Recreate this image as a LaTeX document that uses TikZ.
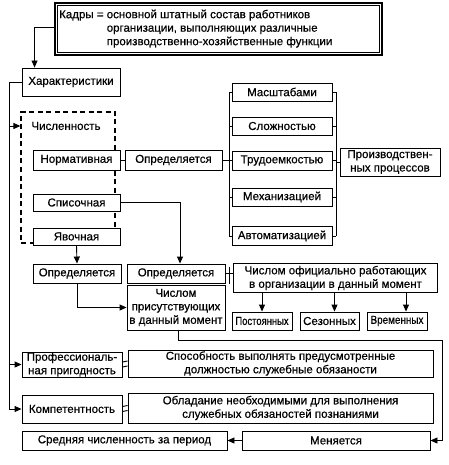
\documentclass[tikz,border=0pt]{standalone}
\usepackage{fontspec}
\setmainfont{Liberation Sans}[FakeBold=0.5]
\usepackage{graphicx}
\usetikzlibrary{calc,arrows.meta}
\begin{document}
\begin{tikzpicture}[x=1pt,y=-1pt,
  every node/.style={font=\fontsize{11.5}{13.5}\selectfont},
  bx/.style={draw, line width=0.9pt, fill=white, inner sep=0pt, align=center},
  arr/.style={-{Triangle[length=7pt,width=6pt]}, line width=0.9pt},
  ln/.style={line width=0.9pt}]
\useasboundingbox (0,0) rectangle (448,465);

% dashed group
\node[draw, dash pattern=on 5pt off 3.5pt, line width=1.2pt, minimum width=94, minimum height=131, inner sep=0pt] (dash) at (68,177.5) {};
\node (chisl) at (66,126) {Численность};

% top
\node[inner sep=0pt, minimum width=327, minimum height=52] (top) at (218.5,29) {};
\node[anchor=west, inner sep=0pt, align=left] (toptext) at (59,29)
  {\begin{tabular}{@{}l@{ }l@{}}Кадры = & основной штатный состав работников\\ & организации, выполняющих различные\\ & производственно-хозяйственные функции\end{tabular}};
\draw[line width=1.6pt] (top.north west) rectangle (top.south east);
\draw[line width=0.6pt] ($(top.north west)+(2.8,2.8)$) rectangle ($(top.south east)+(-2.8,-2.8)$);

\node[bx, minimum width=98, minimum height=28] (har) at (71,82) {Характеристики};

\node[bx, minimum width=87, minimum height=20] (norm) at (76.5,160) {Нормативная};
\node[bx, minimum width=97, minimum height=20] (opr1) at (173.5,160) {Определяется};

\node[bx, minimum width=100, minimum height=18] (masht) at (282,92) {Масштабами};
\node[bx, minimum width=100, minimum height=18] (slozh) at (282,126) {Сложностью};
\node[bx, minimum width=100, minimum height=19] (trud) at (282,160.5) {Трудоемкостью};
\node[bx, minimum width=100, minimum height=18] (mech) at (282,197) {Механизацией};
\node[bx, minimum width=100, minimum height=19] (avto) at (282,236) {Автоматизацией};
\node[bx, minimum width=100, minimum height=28] (proizv) at (390,162) {Производствен-\\ных процессов};

\node[bx, minimum width=87, minimum height=17] (spis) at (76.5,202.5) {Списочная};
\node[bx, minimum width=87, minimum height=17] (yav) at (76.5,236.5) {Явочная};

\node[bx, minimum width=88, minimum height=19] (oprL) at (77,273.5) {Определяется};
\node[bx, minimum width=98, minimum height=19] (oprM) at (176,273.5) {Определяется};
\node[bx, minimum width=204, minimum height=29] (chisOf) at (335.5,278) {Числом официально работающих\\в организации в данный момент};
\node[bx, minimum width=98, minimum height=45] (chisPr) at (176,307.5) {Числом\\присутствующих\\в данный момент};

\node[bx, minimum width=60, minimum height=18] (post) at (262,321) {\scalebox{0.82}[1]{Постоянных}};
\node[bx, minimum width=59, minimum height=18] (sez) at (329.5,321) {Сезонных};
\node[bx, minimum width=60, minimum height=18] (vrem) at (397,321) {\scalebox{0.86}[1]{Временных}};

\node[bx, minimum width=100, minimum height=25] (prof) at (72,364.5) {Профессиональ-\\ная пригодность};
\node[bx, minimum width=305, minimum height=27] (sposob) at (280.5,363.5) {Способность выполнять предусмотренные\\должностью служебные обязаности};
\node[bx, minimum width=100, minimum height=28] (komp) at (72,409) {Компетентность};
\node[bx, minimum width=305, minimum height=30] (oblad) at (280.5,408) {Обладание необходимыми для выполнения\\служебных обязаностей познаниями};

\node[bx, minimum width=205, minimum height=19] (sred) at (124.5,440.5) {Средняя численность за период};
\node[bx, minimum width=188, minimum height=19] (men) at (336,440.5) {Меняется};

% coordinates
\coordinate (L) at (9,82);
\coordinate (BL) at (229,0);
\coordinate (BR) at (336,0);
\coordinate (R) at (442,340);

% connectors
\draw[arr] (top.west |- 0,27) -| ($(har.north west)+(13,0)$);
\draw[ln] (har.west) -- (L) -- (L |- komp.west);
\draw[arr] (L |- chisl) -- (dash.west |- chisl);
\draw[arr] (L |- prof.west) -- (prof.west);
\draw[arr] (L |- komp.west) -- (komp.west);

\draw[ln] (norm.east) -- (opr1.west);
\draw[ln] (BL |- masht.west) -- (BL |- avto.west);
\draw[ln] (opr1.east) -- (BL |- opr1.east);
\foreach \n in {masht,slozh,trud,mech,avto}{
  \draw[ln] (BL |- \n.west) -- (\n.west);
  \draw[ln] (\n.east) -- (BR |- \n.east);
}
\draw[ln] (BR |- masht.east) -- (BR |- avto.east);
\draw[ln] (BR |- proizv.west) -- (proizv.west);

\draw[arr] (spis.east) -| ($(oprM.north)+(4,0)$);
\draw[arr] (yav.south) -- (oprL.north);
\draw[arr] (oprL.south) |- (chisPr.west);
\draw[ln] (oprM.east) -- (oprM.east -| chisOf.west);
\draw[ln] ($(oprM.east)+(3.5,-7)$) -- ($(oprM.east)+(3.5,10)$);

\draw[arr] (post.north |- chisOf.south) -- (post.north);
\draw[arr] ($(sez.north |- chisOf.south)+(5,0)$) -- ($(sez.north)+(5,0)$);
\draw[arr] ($(vrem.north |- chisOf.south)+(9,0)$) -- ($(vrem.north)+(9,0)$);

\draw[arr] ($(chisPr.south)+(2,0)$) |- (R) -- (R |- men.east) -- (men.east);
\draw[arr] (men.west) -- (sred.east);

\draw[ln] ($(prof.east)+(0,-2.5)$) -- ($(sposob.west)+(0,-2.5)$);
\draw[ln] ($(prof.east)+(0,2.5)$) -- ($(sposob.west)+(0,2.5)$);
\draw[ln] ($(komp.east)+(0,-2.5)$) -- ($(oblad.west)+(0,-2.5)$);
\draw[ln] ($(komp.east)+(0,2.5)$) -- ($(oblad.west)+(0,2.5)$);
\end{tikzpicture}
\end{document}
